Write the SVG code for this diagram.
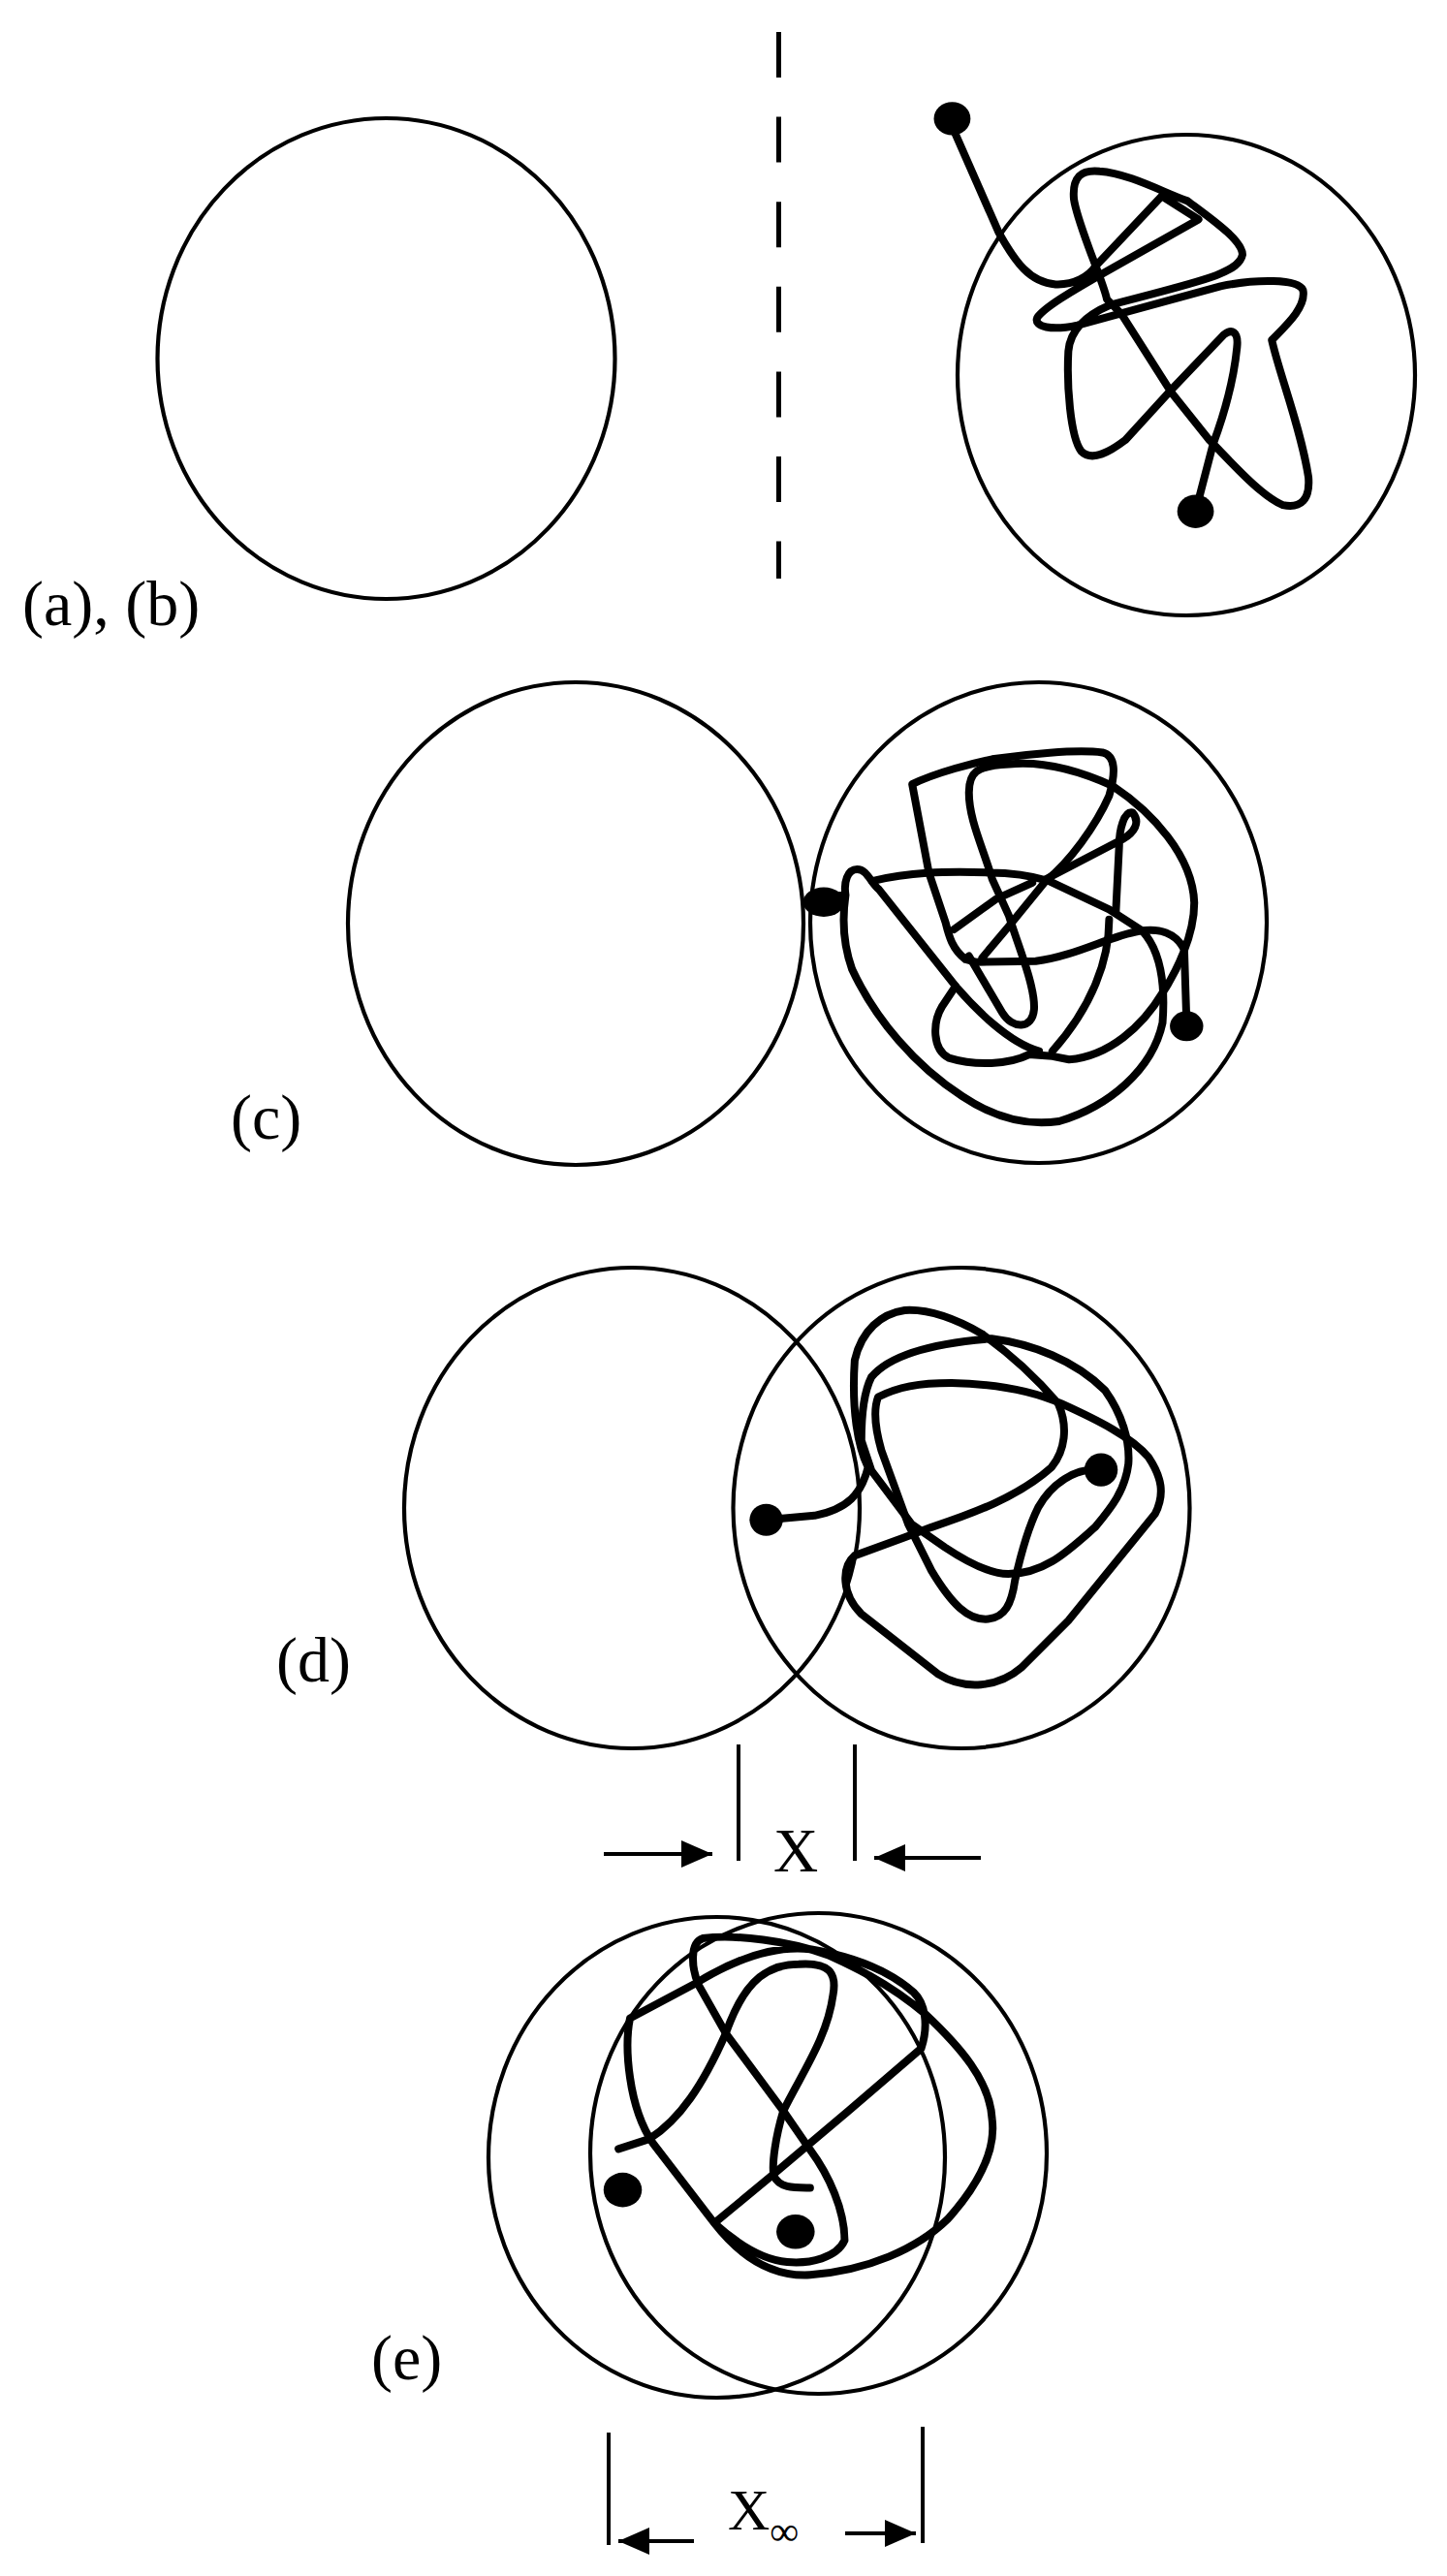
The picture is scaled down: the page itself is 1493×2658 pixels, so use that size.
<svg xmlns="http://www.w3.org/2000/svg" width="1493" height="2658" viewBox="0 0 1493 2658">
<style>
.c{fill:none;stroke:#000;stroke-width:4.2}
.w{fill:none;stroke:#000;stroke-width:8;stroke-linejoin:round;stroke-linecap:round;vector-effect:non-scaling-stroke}
.l{fill:none;stroke:#000;stroke-width:4}
.t{font-family:"Liberation Serif","Times New Roman",serif;fill:#000;font-size:66px}
</style>
<defs><marker id="ah" markerUnits="userSpaceOnUse" markerWidth="32" markerHeight="28" refX="32" refY="14" orient="auto"><path d="M0 0L32 14L0 28Z"/></marker></defs>
<rect width="1493" height="2658" fill="#fff"/>
<g id="panel-ab">
<ellipse class="c" cx="398.5" cy="370" rx="236" ry="248"/>
<ellipse class="c" cx="1224" cy="387" rx="236" ry="248"/>
<path d="M803.5 33V597" fill="none" stroke="#000" stroke-width="5" stroke-dasharray="47 40.6"/>
<g transform="translate(900 60) scale(.3782 .3827)">
<path class="w" d="M225 200L345 470C390 550 430 605 500 610C550 612 590 590 610 560L790 372L890 435L630 580C560 620 470 670 450 700C440 725 490 735 560 720L950 615C1050 595 1160 595 1175 625C1185 670 1130 720 1090 760C1110 850 1170 1000 1190 1130C1195 1190 1170 1215 1120 1205C1060 1180 980 1090 920 1030L815 900L680 690L640 650C630 600 560 450 550 380C545 320 570 300 620 305C700 310 800 365 860 385C920 430 1010 490 1010 530C1000 580 900 600 650 665C590 690 540 730 535 790C530 880 540 1020 570 1060C600 1090 650 1060 690 1030L815 895L960 745C980 730 1000 735 995 780C985 880 960 960 930 1040L882 1222"/>
<ellipse cx="218" cy="163" rx="50" ry="45"/><ellipse cx="882" cy="1222" rx="50" ry="45"/>
</g>
<text class="t" x="23" y="645">(a), (b)</text>
</g>
<g id="panel-c">
<ellipse class="c" cx="594" cy="953" rx="235" ry="249"/>
<ellipse class="c" cx="1071.5" cy="952" rx="235.5" ry="248"/>
<g transform="translate(800 680) scale(.3444)">
<path class="w" d="M120 725L210 705C205 670 215 630 245 630C275 630 285 670 310 690L540 980C600 1050 700 1150 790 1175"/>
<path class="w" d="M290 665C400 640 500 635 640 640C720 640 770 650 820 665L1000 750L1100 815C1150 870 1170 960 1160 1090C1130 1230 1000 1340 850 1385C750 1400 650 1370 560 1310C420 1220 300 1080 230 930C205 860 200 780 210 710"/>
<path class="w" d="M1232 1090L1225 870C1200 820 1150 805 1090 815C1000 830 900 890 780 905L600 908L570 900C530 870 520 830 510 790L460 640L410 375C480 340 600 310 650 300C750 285 900 270 980 280C1020 290 1020 340 1000 410C960 500 880 610 810 665L700 800L620 895"/>
<path class="w" d="M810 660L1040 540C1075 520 1095 490 1070 460C1045 455 1030 510 1030 560L1020 760M1000 780C1000 900 950 1040 830 1175M535 810L660 720L770 670"/>
<path class="w" d="M580 890L680 1060C710 1110 770 1110 775 1050C780 980 720 840 700 770L650 660C620 560 580 480 580 400C580 340 600 320 700 315C800 305 900 330 1010 380C1130 460 1250 590 1255 730C1255 830 1200 940 1160 1000C1100 1100 1000 1190 880 1200L830 1190L760 1185C700 1215 600 1220 520 1195C470 1170 470 1090 500 1040L540 980"/>
<ellipse cx="145" cy="728" rx="62" ry="44"/><ellipse cx="1232" cy="1100" rx="50" ry="45"/>
</g>
<text class="t" x="238" y="1175">(c)</text>
</g>
<g id="panel-d">
<ellipse class="c" cx="652" cy="1556" rx="235" ry="248"/>
<ellipse class="c" cx="992" cy="1556" rx="235.5" ry="248"/>
<g transform="translate(720 1290) scale(.3444)">
<path class="w" d="M205 808L350 795C450 775 490 730 510 650C480 590 460 480 470 330C490 240 550 190 620 180C700 175 780 210 850 250C950 320 1020 390 1080 460C1110 530 1100 600 1060 650C960 740 820 790 700 830L620 860L470 915C430 950 430 1030 490 1090L720 1270C800 1320 900 1310 970 1250L1110 1110L1370 790C1400 730 1390 680 1350 620C1300 560 1200 510 1090 460C1000 420 880 400 760 398C660 398 600 410 540 440C525 480 530 530 550 600L630 820L700 960C760 1060 810 1110 870 1105C920 1100 940 1060 950 990C970 900 990 830 1020 770C1060 700 1130 650 1208 658"/>
<path class="w" d="M490 570C490 500 495 430 520 380C570 320 680 280 880 265C1000 280 1130 330 1220 420C1270 490 1295 570 1290 640C1280 720 1240 770 1190 830C1110 900 1040 970 930 970C870 970 800 930 740 890L640 820L520 660Z"/>
<ellipse cx="205" cy="808" rx="50" ry="48"/><ellipse cx="1208" cy="658" rx="50" ry="50"/>
</g>
<text class="t" x="285" y="1735">(d)</text>
</g>
<g id="panel-e">
<ellipse class="c" cx="739.5" cy="2226" rx="235.5" ry="248"/>
<ellipse class="c" cx="844.5" cy="2222" rx="235.5" ry="248"/>
<g transform="translate(480 1960) scale(.3954 .4452)">
<path class="w" d="M400 578L480 555C560 510 620 430 680 310C720 210 770 150 870 150C950 145 970 170 960 220C945 320 880 400 830 490C810 550 800 610 805 640C820 670 860 668 900 668"/>
<path class="w" d="M800 640L1000 490L1190 345C1210 290 1200 240 1170 215C1100 160 1000 130 900 115C800 105 700 140 600 195L430 275C415 340 425 480 490 565L650 750C720 830 800 875 900 870C1050 860 1180 810 1260 740C1340 660 1385 580 1375 510C1370 420 1290 340 1200 265C1100 190 1000 150 950 130C850 95 700 80 620 90C585 100 590 160 610 200L680 310L830 490L900 580C950 640 990 720 990 790C970 830 900 845 840 840C770 835 700 790 650 750L800 640"/>
<ellipse cx="411" cy="673" rx="50" ry="40"/><ellipse cx="862" cy="770" rx="50" ry="40"/>
</g>
<text class="t" x="383" y="2455">(e)</text>
</g>
<g id="connectors">
<path class="l" d="M762 1800V1920M882 1800V1920M628 2510V2626M952 2504V2624"/>
<path class="l" marker-end="url(#ah)" d="M623 1913H735"/>
<path class="l" marker-end="url(#ah)" d="M1012 1917H902"/>
<path class="l" marker-end="url(#ah)" d="M716 2622H638"/>
<path class="l" marker-end="url(#ah)" d="M872 2614H945"/>
</g>
<g id="label-x"><text class="t" x="798" y="1931" style="font-size:64px">X</text></g>
<g id="label-xinf"><text class="t" x="751" y="2610" style="font-size:60px">X<tspan dy="16" style="font-size:42px">∞</tspan></text></g>
</svg>
